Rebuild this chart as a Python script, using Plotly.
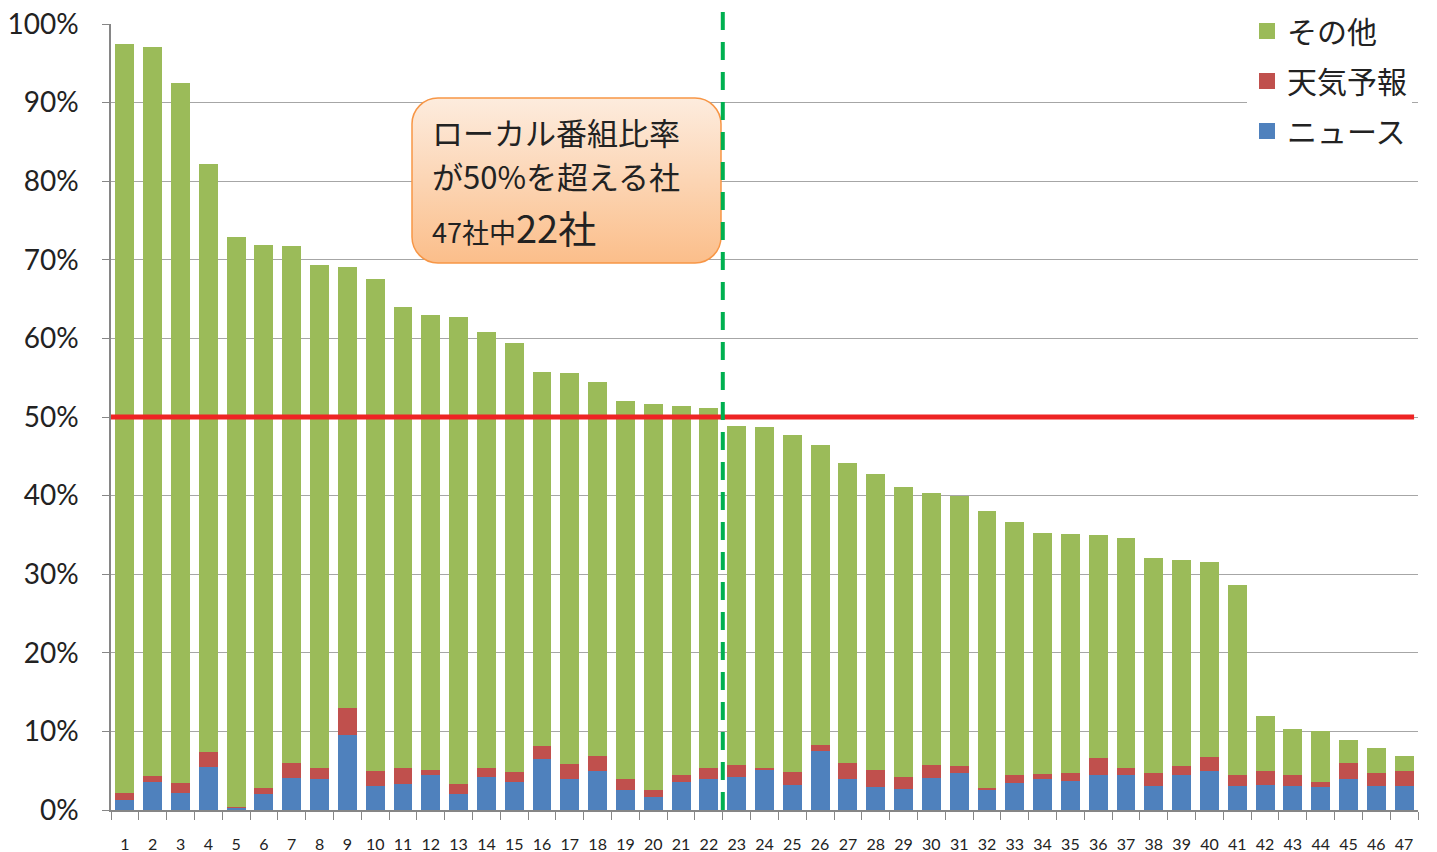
import base64
import plotly.graph_objects as go

# 47 local stations, share of broadcast time (%)
companies = [str(i) for i in range(1, 48)]
news = [1.3, 3.5, 2.2, 5.5, 0.3, 2.0, 4.1, 3.9, 9.5, 3.1, 3.3, 4.4,
        2.0, 4.2, 3.5, 6.5, 3.9, 4.9, 2.6, 1.7, 3.5, 3.9,
        4.2, 5.1, 3.2, 7.5, 4.0, 2.9, 2.7, 4.1, 4.7, 2.6, 3.4, 3.9, 3.7,
        4.5, 4.5, 3.0, 4.4, 5.0, 3.1, 3.2, 3.0, 2.9, 3.9, 3.1, 3.1]
weather = [0.8, 0.8, 1.2, 1.9, 0.1, 0.8, 1.9, 1.5, 3.5, 1.8, 2.1, 0.7,
           1.3, 1.2, 1.3, 1.7, 2.0, 2.0, 1.3, 0.9, 0.9, 1.5,
           1.5, 0.3, 1.6, 0.8, 2.0, 2.2, 1.5, 1.6, 0.9, 0.2, 1.1, 0.7, 1.0,
           2.1, 0.8, 1.7, 1.2, 1.8, 1.3, 1.7, 1.4, 0.6, 2.1, 1.6, 1.9]
other = [95.4, 92.8, 89.1, 74.8, 72.5, 69.1, 65.7, 64.0, 56.1, 62.7, 58.6, 57.9,
         59.4, 55.4, 54.6, 47.5, 49.7, 47.6, 48.1, 49.0, 47.0, 45.8,
         43.2, 43.3, 42.9, 38.1, 38.2, 37.6, 36.9, 34.6, 34.4, 35.2, 32.2, 30.6, 30.4,
         28.4, 29.3, 27.3, 26.2, 24.8, 24.2, 7.0, 5.9, 6.5, 2.9, 3.2, 1.9]
y_ticks = list(range(0, 101, 10))
y_labels = [f"{v}%" for v in y_ticks]

series = [("ニュース", news, "#4F81BD"),
          ("天気予報", weather, "#C0504D"),
          ("その他", other, "#9BBB59")]

FONT = "Noto Sans CJK JP"
NUM_FONT = "Lato"

fig = go.Figure()
for name, vals, color in series:
    fig.add_trace(go.Bar(x=companies, y=vals, name=name, marker_color=color,
                         marker_line_width=0, showlegend=False))

# legend entries (top to bottom: その他, 天気予報, ニュース) with bigger swatches
for name, vals, color in reversed(series):
    fig.add_trace(go.Scatter(x=[None], y=[None], mode="markers", name=name,
                             legendgroup=name,
                             marker=dict(symbol="square", size=18, color=color)))

# rounded orange callout box with vertical gradient (svg image)
svg = (
    '<svg xmlns="http://www.w3.org/2000/svg" width="311" height="167">'
    '<defs><linearGradient id="g" x1="0" y1="0" x2="0" y2="1">'
    '<stop offset="0" stop-color="#FDECDE"/><stop offset="1" stop-color="#FBBE8A"/>'
    '</linearGradient></defs>'
    '<rect x="1" y="1" width="309" height="165" rx="26" ry="26" fill="url(#g)" '
    'stroke="#F79646" stroke-width="1.5"/></svg>'
)
src = "data:image/svg+xml;base64," + base64.b64encode(svg.encode()).decode()

L, R, T, B = 111, 19, 24, 42
W, H = 1437, 852
pw, ph = W - L - R, H - T - B


def px(x):
    return (x - L) / pw


def py(y):
    return (H - B - y) / ph


fig.add_layout_image(source=src, xref="paper", yref="paper", x=px(411), y=py(97),
                     sizex=311 / pw, sizey=167 / ph, sizing="stretch",
                     xanchor="left", yanchor="top", layer="above")

callout = [
    (131, 31, "ローカル番組比率"),
    (176, 31, "が50%を超える社"),
    (226, 31, "<span style='font-size:27px'>47社中</span>"
              "<span style='font-size:38px'>22社</span>"),
]
for yy, size, txt in callout:
    fig.add_annotation(xref="paper", yref="paper", x=px(430), y=py(yy), text=txt,
                       showarrow=False, xanchor="left", yanchor="middle",
                       font=dict(family=FONT, size=size, color="#222222"))

# 50% threshold and split line
fig.add_shape(type="line", xref="x domain", yref="y", x0=0, x1=0.997, y0=50, y1=50,
              line=dict(color="#EE2424", width=5), layer="above")
fig.add_shape(type="line", xref="x", yref="paper", x0=21.5, x1=21.5, y0=0, y1=py(0),
              line=dict(color="#00B050", width=4, dash="18px,12px"), layer="above")

fig.update_layout(
    width=W, height=H,
    barmode="stack", bargap=0.32,
    plot_bgcolor="white", paper_bgcolor="white",
    margin=dict(l=L, r=R, t=T, b=B, autoexpand=False),
    legend=dict(x=px(1247), y=py(5), xanchor="left", yanchor="top",
                bgcolor="white", traceorder="grouped", tracegroupgap=8,
                font=dict(family=FONT, size=30, color="#222222")),
    xaxis=dict(type="category", tickson="boundaries", ticks="outside", ticklen=8,
               tickcolor="#868686", showline=True, linecolor="#868686", linewidth=1.5,
               showgrid=False, ticklabelstandoff=19,
               tickfont=dict(family=NUM_FONT, size=16, color="#222222")),
    yaxis=dict(range=[0, 100], tickvals=y_ticks, ticktext=y_labels,
               ticks="outside", ticklen=7, tickcolor="#868686",
               showline=True, linecolor="#868686", linewidth=1.5,
               gridcolor="#A6A6A6", gridwidth=1, zeroline=False,
               ticklabelstandoff=18,
               tickfont=dict(family=NUM_FONT, size=28, color="#222222")),
)

# drop the default page margin so the figure fills the window exactly
fig.write_html("out.html", config={"displayModeBar": False},
               post_script="document.body.style.margin='0';")
